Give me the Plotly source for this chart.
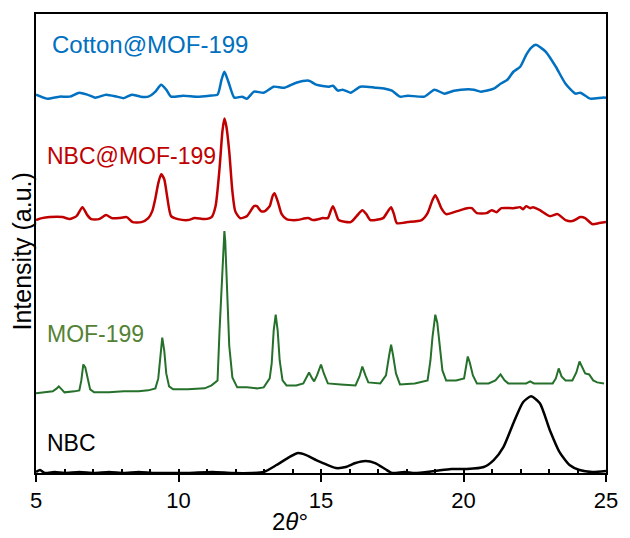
import plotly.graph_objects as go

# 2-theta positions (degrees) and stacked intensities (a.u., offsets included)
cotton_x = [5.00, 5.38, 5.83, 6.18, 6.52, 6.80, 7.08, 7.46, 7.84, 8.08, 8.36, 8.67, 8.94, 9.19, 9.39, 9.57, 9.74,
            10.16, 10.67, 11.09, 11.37, 11.51, 11.61, 11.75, 11.96, 12.23, 12.40, 12.65, 12.99, 13.34, 13.72, 14.13,
            14.58, 14.83, 15.28, 15.42, 15.59, 15.76, 16.04, 16.38, 16.90, 17.25, 17.49, 17.77, 18.04, 18.63, 18.98,
            19.33, 19.67, 19.91, 20.36, 20.61, 21.06, 21.30, 21.54, 21.75, 21.99, 22.20, 22.37, 22.54, 22.72, 22.89,
            23.24, 23.58, 23.93, 24.10, 24.45, 24.86, 25.00]
cotton_y = [380, 376, 378, 378, 382, 380, 377, 380, 378, 376.5, 380, 378, 378, 383, 390, 385, 378,
            379, 378, 379, 380, 395, 403, 393, 377, 378, 376, 383, 382, 388, 387, 392,
            394, 390, 388, 389, 384, 385, 382, 388, 387, 386, 384, 378, 379, 378, 385,
            381, 384, 385, 385, 383, 386, 391, 395, 403, 408, 420, 427, 430, 427, 423,
            408, 391, 381, 382, 376, 377, 377]

nbcmof_x = [5.00, 5.21, 5.48, 5.93, 6.18, 6.42, 6.63, 6.80, 6.94, 7.21, 7.46, 7.66, 7.91, 8.18, 8.39, 8.70, 8.94,
            9.08, 9.19, 9.29, 9.39, 9.50, 9.60, 9.74, 9.98, 10.33, 10.57, 10.92, 11.16, 11.30, 11.44, 11.54, 11.61,
            11.68, 11.78, 11.89, 11.99, 12.16, 12.40, 12.65, 12.75, 12.89, 13.03, 13.20, 13.30, 13.37, 13.48, 13.62,
            13.79, 14.13, 14.55, 14.72, 15.07, 15.24, 15.35, 15.42, 15.52, 15.62, 16.04, 16.25, 16.45, 16.59, 16.73,
            17.18, 17.35, 17.46, 17.56, 17.66, 18.04, 18.53, 18.74, 18.91, 19.01, 19.12, 19.22, 19.39, 19.78, 20.12,
            20.29, 20.47, 20.81, 20.99, 21.16, 21.33, 21.75, 21.99, 22.09, 22.20, 22.34, 22.44, 22.68, 23.03, 23.30,
            23.58, 23.82, 24.10, 24.27, 24.52, 24.76, 25.00]
nbcmof_y = [254, 256, 257, 257, 255, 258, 267, 259, 255, 255, 259, 256, 256, 257, 252, 252, 256,
            263, 276, 291, 300, 295, 278, 258, 255, 254, 256, 255, 257, 268, 306, 343, 356,
            348, 323, 283, 263, 256, 258, 268, 268, 263, 263, 268, 278, 281, 273, 260,
            255, 254, 256, 254, 256, 256, 264, 268, 261, 254, 252, 258, 264, 260, 254,
            256, 263, 267, 260, 251, 252, 254, 261, 274, 279, 273, 266, 260, 263, 266,
            266, 261, 261, 264, 262, 266, 266, 267, 265, 268, 266, 267, 264, 258, 260,
            254, 253, 257, 256, 250, 251, 252]

mof_x = [5.00, 5.31, 5.59, 5.73, 5.80, 5.90, 6.00, 6.35, 6.52, 6.59, 6.66, 6.73, 6.80, 6.90, 7.04, 7.56, 8.08,
         8.60, 8.94, 9.19, 9.29, 9.36, 9.43, 9.50, 9.57, 9.67, 9.81, 10.33, 10.92, 11.16, 11.37, 11.44, 11.51,
         11.57, 11.61, 11.64, 11.71, 11.78, 11.89, 12.06, 12.40, 12.75, 12.99, 13.20, 13.27, 13.34, 13.41, 13.48,
         13.55, 13.65, 13.79, 14.13, 14.38, 14.48, 14.58, 14.69, 14.76, 14.86, 15.00, 15.10, 15.24, 15.69, 16.21,
         16.35, 16.45, 16.56, 16.66, 17.08, 17.28, 17.39, 17.46, 17.53, 17.63, 17.77, 18.29, 18.74, 18.84, 18.91,
         19.01, 19.08, 19.15, 19.26, 19.39, 19.74, 20.02, 20.09, 20.15, 20.22, 20.33, 20.47, 20.88, 21.12, 21.30,
         21.44, 21.57, 22.20, 22.34, 22.47, 23.13, 23.24, 23.34, 23.44, 23.58, 23.82, 23.96, 24.07, 24.17, 24.27,
         24.41, 24.55, 24.69, 24.93]
mof_y = [80, 81, 82, 85, 87, 84, 81, 82, 83, 93, 109, 106, 96, 84, 81, 81, 82,
         82, 83, 85, 95, 113, 136, 123, 100, 87, 84, 84, 85, 88, 93, 143, 186,
         233, 243, 233, 186, 128, 96, 86, 86, 85, 86, 95, 110, 143, 159, 143,
         113, 93, 88, 88, 90, 95, 101, 95, 92, 98, 109, 100, 90, 89, 88,
         97, 107, 98, 91, 90, 98, 118, 129, 118, 100, 89, 90, 93, 113, 136,
         159, 151, 130, 103, 93, 93, 95, 105, 117, 111, 98, 90, 90, 93, 99,
         93, 90, 90, 92, 90, 90, 95, 105, 97, 93, 93, 101, 112, 105, 100,
         99, 93, 91, 90]

nbc_x = [5.00, 5.14, 5.31, 5.66, 6.00, 6.52, 7.04, 7.56, 8.08, 8.60, 9.12, 9.64, 10.33, 11.19, 11.89, 12.58, 12.99,
         13.44, 13.89, 14.20, 14.48, 14.83, 15.07, 15.52, 15.87, 16.21, 16.56, 16.90, 17.25, 17.49, 17.94, 18.29,
         18.98, 19.57, 20.12, 20.71, 21.06, 21.40, 21.75, 22.09, 22.37, 22.68, 23.03, 23.37, 23.72, 24.07, 24.52, 25.00]
nbc_y = [1, 3, 0, 1, 0, 1, 0, 1, 0, 1, 0, 0, 0, 1, 0, 0, 1,
         8, 16, 20, 18, 13, 10, 5, 6, 10, 12, 10, 4, 0, 1, 0,
         2, 4, 4, 6, 13, 26, 50, 71, 77, 70, 43, 21, 8, 3, 1, 2]

labels = ["Cotton@MOF-199", "NBC@MOF-199", "MOF-199", "NBC"]
label_x = [5.48, 5.31, 5.33, 5.31]
label_y = [430, 318, 140, 30]
label_size = [24, 23, 23, 23]
line_colors = ["#0070C0", "#C00000", "#25702A", "#000000"]
text_colors = ["#0070C0", "#C00000", "#548235", "#000000"]
x_ticks = [5, 10, 15, 20, 25]

FONT = "Liberation Sans, Arial, sans-serif"

fig = go.Figure()
series = [(cotton_x, cotton_y, "spline", 2.5), (nbcmof_x, nbcmof_y, "spline", 2.5),
          (mof_x, mof_y, "linear", 2.0), (nbc_x, nbc_y, "spline", 2.5)]
for (xs, ys, shape, w), c, name in zip(series, line_colors, labels):
    fig.add_trace(go.Scatter(x=xs, y=ys, mode="lines", name=name,
                             line=dict(color=c, width=w, shape=shape,
                                       smoothing=0.6 if shape == "spline" else None),
                             showlegend=False, hoverinfo="skip"))
# helper trace for the inside tick overlay axis
fig.add_trace(go.Scatter(x=[None], y=[None], xaxis="x2", showlegend=False, hoverinfo="skip"))

for text, xv, yv, sz, col in zip(labels, label_x, label_y, label_size, text_colors):
    fig.add_annotation(x=xv, y=yv, xref="x", yref="y", text=text, showarrow=False,
                       xanchor="left", yanchor="middle", font=dict(family=FONT, size=sz, color=col))

fig.add_annotation(x=0.445, y=-0.140, xref="paper", yref="paper", text="2<i>θ</i>°", showarrow=False,
                   xanchor="center", yanchor="bottom", font=dict(family=FONT, size=24, color="black"))
fig.add_annotation(x=-0.025, y=0.482, xref="paper", yref="paper", text="Intensity (a.u.)", showarrow=False,
                   textangle=-90, xanchor="center", yanchor="middle",
                   font=dict(family=FONT, size=25, color="black"))

fig.update_layout(
    width=630, height=538,
    margin=dict(l=36, r=16, t=12, b=65),
    paper_bgcolor="white", plot_bgcolor="white",
    font=dict(family=FONT, color="black"),
    xaxis=dict(range=[5, 25], tickvals=x_ticks, ticktext=[str(t) for t in x_ticks],
               ticks="outside", ticklen=7, tickwidth=2, tickcolor="black",
               showline=True, linewidth=2, linecolor="black", mirror=True,
               showgrid=False, zeroline=False, tickfont=dict(family=FONT, size=22, color="black")),
    xaxis2=dict(range=[5, 25], overlaying="x", anchor="y", side="bottom", dtick=1, tick0=5,
                ticks="inside", ticklen=4, tickwidth=1.5, tickcolor="black",
                showticklabels=False, showline=False, showgrid=False, zeroline=False),
    yaxis=dict(range=[0, 461], showticklabels=False, ticks="", showline=True, linewidth=2,
               linecolor="black", mirror=True, showgrid=False, zeroline=False),
)

fig.write_html(
    "out.html",
    post_script=(
        "document.documentElement.style.margin='0';document.body.style.margin='0';"
        "document.body.style.padding='0';document.documentElement.style.overflow='hidden';"
        "document.body.style.overflow='hidden';"
    ),
)
